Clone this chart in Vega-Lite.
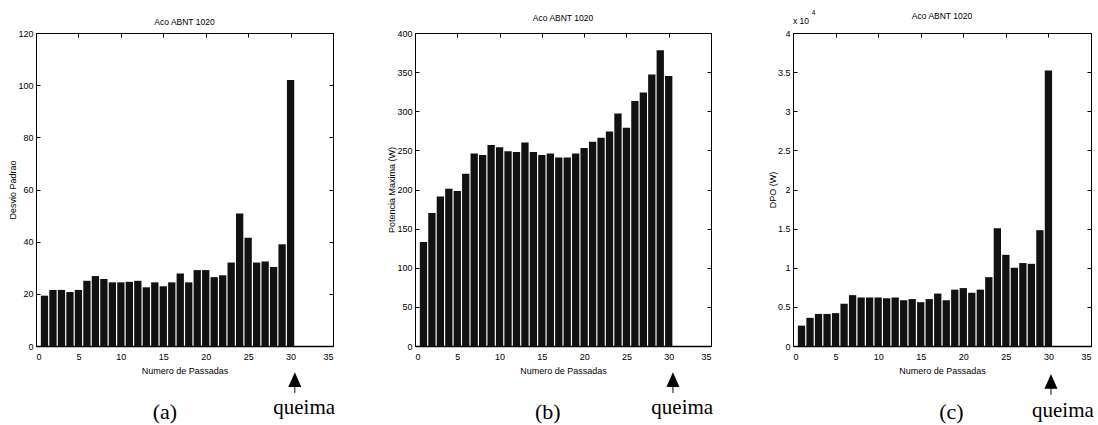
{
  "$schema": "https://vega.github.io/schema/vega-lite/v6.json",
  "background": "white",
  "padding": {"left": 8, "top": 9, "right": 0, "bottom": 0},
  "config": {
    "concat": {"spacing": 82},
    "view": {"stroke": "black", "strokeWidth": 1},
    "axis": {
      "domain": false,
      "grid": false,
      "tickColor": "black",
      "tickSize": -4,
      "labelFont": "Liberation Sans",
      "labelFontSize": 9,
      "labelColor": "black",
      "labelPadding": 7,
      "titleFont": "Liberation Sans",
      "titleFontSize": 9,
      "titleFontWeight": "normal",
      "titleColor": "black"
    },
    "axisBottom": {"labelPadding": 10, "titlePadding": 5},
    "axisLeft": {"titlePadding": 0},
    "title": {"font": "Liberation Sans", "fontSize": 8.5, "fontWeight": "normal", "color": "black", "offset": 10}
  },
  "bounds": "flush",
  "datasets": {
    "passes": [
      {"n": 1, "desvio": 19.3, "potencia": 133, "dpo": 2600},
      {"n": 2, "desvio": 21.5, "potencia": 170, "dpo": 3600},
      {"n": 3, "desvio": 21.5, "potencia": 191, "dpo": 4100},
      {"n": 4, "desvio": 20.7, "potencia": 201, "dpo": 4100},
      {"n": 5, "desvio": 21.5, "potencia": 198, "dpo": 4200},
      {"n": 6, "desvio": 25, "potencia": 220, "dpo": 5400},
      {"n": 7, "desvio": 26.8, "potencia": 246, "dpo": 6500},
      {"n": 8, "desvio": 25.7, "potencia": 244, "dpo": 6200},
      {"n": 9, "desvio": 24.4, "potencia": 257, "dpo": 6200},
      {"n": 10, "desvio": 24.4, "potencia": 254, "dpo": 6200},
      {"n": 11, "desvio": 24.6, "potencia": 249, "dpo": 6100},
      {"n": 12, "desvio": 25, "potencia": 248, "dpo": 6200},
      {"n": 13, "desvio": 22.5, "potencia": 260, "dpo": 5850},
      {"n": 14, "desvio": 24.4, "potencia": 248, "dpo": 6000},
      {"n": 15, "desvio": 22.9, "potencia": 244, "dpo": 5600},
      {"n": 16, "desvio": 24.4, "potencia": 246, "dpo": 6000},
      {"n": 17, "desvio": 27.8, "potencia": 241, "dpo": 6700},
      {"n": 18, "desvio": 24.4, "potencia": 241, "dpo": 5850},
      {"n": 19, "desvio": 29.1, "potencia": 246, "dpo": 7200},
      {"n": 20, "desvio": 29.1, "potencia": 253, "dpo": 7400},
      {"n": 21, "desvio": 26.4, "potencia": 261, "dpo": 6800},
      {"n": 22, "desvio": 27.1, "potencia": 266, "dpo": 7200},
      {"n": 23, "desvio": 32, "potencia": 274, "dpo": 8800},
      {"n": 24, "desvio": 50.8, "potencia": 297, "dpo": 15050},
      {"n": 25, "desvio": 41.5, "potencia": 279, "dpo": 11650},
      {"n": 26, "desvio": 32, "potencia": 313, "dpo": 10000},
      {"n": 27, "desvio": 32.4, "potencia": 324, "dpo": 10600},
      {"n": 28, "desvio": 30.3, "potencia": 347, "dpo": 10500},
      {"n": 29, "desvio": 39, "potencia": 378, "dpo": 14800},
      {"n": 30, "desvio": 102, "potencia": 345, "dpo": 35200}
    ],
    "one": [{}]
  },
  "hconcat": [
    {
      "width": 297,
      "height": 313,
      "title": {"text": "Aco ABNT 1020", "dy": 7},
      "resolve": {"axis": {"x": "independent", "y": "independent"}},
      "layer": [
        {
          "data": {"name": "passes"},
          "mark": {"type": "bar", "width": 7.3, "color": "#111111"},
          "encoding": {
            "x": {"field": "n", "type": "quantitative", "scale": {"domain": [0, 35], "nice": false, "padding": 0, "zero": false},
                  "axis": {"orient": "bottom", "values": [0,5,10,15,20,25,30,35], "title": "Numero de Passadas", "domain": true, "domainWidth": 1.5, "domainColor": "black"}},
            "y": {"field": "desvio", "type": "quantitative", "scale": {"domain": [0, 120], "nice": false},
                  "axis": {"orient": "left", "values": [0,20,40,60,80,100,120], "title": "Desvio Padrao"}}
          }
        },
        {
          "data": {"name": "passes"},
          "mark": {"type": "point", "opacity": 0},
          "encoding": {
            "x": {"field": "n", "type": "quantitative", "scale": {"domain": [0, 35], "nice": false, "padding": 0, "zero": false}, "axis": {"orient": "top", "values": [0,5,10,15,20,25,30,35], "labels": false, "title": null}},
            "y": {"field": "desvio", "type": "quantitative", "scale": {"domain": [0, 120], "nice": false}, "axis": {"orient": "right", "values": [0,20,40,60,80,100,120], "labels": false, "title": null}}
          }
        },
        {
          "data": {"name": "one"},
          "mark": {"type": "point", "shape": "M0,-1L0.55,0.25L0.04,0.25L0.04,0.75L-0.04,0.75L-0.04,0.25L-0.55,0.25Z", "filled": true, "color": "black", "opacity": 1, "size": 560, "clip": false},
          "encoding": {"x": {"datum": 30.5, "type": "quantitative", "axis": null}, "y": {"datum": -14.6, "type": "quantitative", "axis": null}}
        },
        {
          "data": {"name": "one"},
          "mark": {"type": "text", "text": "queima", "font": "Liberation Serif", "fontSize": 21, "align": "center", "baseline": "middle", "color": "black"},
          "encoding": {"x": {"datum": 31.6, "type": "quantitative", "axis": null}, "y": {"datum": -23.8, "type": "quantitative", "axis": null}}
        },
        {
          "data": {"name": "one"},
          "mark": {"type": "text", "text": "(a)", "font": "Liberation Serif", "fontSize": 22, "align": "center", "baseline": "middle", "color": "black"},
          "encoding": {"x": {"datum": 15.2, "type": "quantitative", "axis": null}, "y": {"datum": -25.3, "type": "quantitative", "axis": null}}
        }
      ]
    },
    {
      "width": 296,
      "height": 313,
      "title": {"text": "Aco ABNT 1020", "dy": 3},
      "resolve": {"axis": {"x": "independent", "y": "independent"}},
      "layer": [
        {
          "data": {"name": "passes"},
          "mark": {"type": "bar", "width": 7.3, "color": "#111111"},
          "encoding": {
            "x": {"field": "n", "type": "quantitative", "scale": {"domain": [0, 35], "nice": false, "padding": 0, "zero": false},
                  "axis": {"orient": "bottom", "values": [0,5,10,15,20,25,30,35], "title": "Numero de Passadas", "domain": true, "domainWidth": 1.5, "domainColor": "black"}},
            "y": {"field": "potencia", "type": "quantitative", "scale": {"domain": [0, 400], "nice": false},
                  "axis": {"orient": "left", "values": [0,50,100,150,200,250,300,350,400], "title": "Potencia Maxima (W)"}}
          }
        },
        {
          "data": {"name": "passes"},
          "mark": {"type": "point", "opacity": 0},
          "encoding": {
            "x": {"field": "n", "type": "quantitative", "scale": {"domain": [0, 35], "nice": false, "padding": 0, "zero": false}, "axis": {"orient": "top", "values": [0,5,10,15,20,25,30,35], "labels": false, "title": null}},
            "y": {"field": "potencia", "type": "quantitative", "scale": {"domain": [0, 400], "nice": false}, "axis": {"orient": "right", "values": [0,50,100,150,200,250,300,350,400], "labels": false, "title": null}}
          }
        },
        {
          "data": {"name": "one"},
          "mark": {"type": "point", "shape": "M0,-1L0.55,0.25L0.04,0.25L0.04,0.75L-0.04,0.75L-0.04,0.25L-0.55,0.25Z", "filled": true, "color": "black", "opacity": 1, "size": 560, "clip": false},
          "encoding": {"x": {"datum": 30.5, "type": "quantitative", "axis": null}, "y": {"datum": -48.6, "type": "quantitative", "axis": null}}
        },
        {
          "data": {"name": "one"},
          "mark": {"type": "text", "text": "queima", "font": "Liberation Serif", "fontSize": 21, "align": "center", "baseline": "middle", "color": "black"},
          "encoding": {"x": {"datum": 31.6, "type": "quantitative", "axis": null}, "y": {"datum": -79.2, "type": "quantitative", "axis": null}}
        },
        {
          "data": {"name": "one"},
          "mark": {"type": "text", "text": "(b)", "font": "Liberation Serif", "fontSize": 22, "align": "center", "baseline": "middle", "color": "black"},
          "encoding": {"x": {"datum": 15.7, "type": "quantitative", "axis": null}, "y": {"datum": -84.3, "type": "quantitative", "axis": null}}
        }
      ]
    },
    {
      "width": 298,
      "height": 313,
      "title": {"text": "Aco ABNT 1020", "dy": 20},
      "resolve": {"axis": {"x": "independent", "y": "independent"}},
      "layer": [
        {
          "data": {"name": "passes"},
          "mark": {"type": "bar", "width": 7.3, "color": "#111111"},
          "encoding": {
            "x": {"field": "n", "type": "quantitative", "scale": {"domain": [0, 35], "nice": false, "padding": 0, "zero": false},
                  "axis": {"orient": "bottom", "values": [0,5,10,15,20,25,30,35], "title": "Numero de Passadas", "domain": true, "domainWidth": 1.5, "domainColor": "black"}},
            "y": {"field": "dpo", "type": "quantitative", "scale": {"domain": [0, 40000], "nice": false},
                  "axis": {"orient": "left", "values": [0,5000,10000,15000,20000,25000,30000,35000,40000], "labelExpr": "datum.value / 10000", "title": "DPO (W)"}}
          }
        },
        {
          "data": {"name": "passes"},
          "mark": {"type": "point", "opacity": 0},
          "encoding": {
            "x": {"field": "n", "type": "quantitative", "scale": {"domain": [0, 35], "nice": false, "padding": 0, "zero": false}, "axis": {"orient": "top", "values": [0,5,10,15,20,25,30,35], "labels": false, "title": null}},
            "y": {"field": "dpo", "type": "quantitative", "scale": {"domain": [0, 40000], "nice": false}, "axis": {"orient": "right", "values": [0,5000,10000,15000,20000,25000,30000,35000,40000], "labels": false, "title": null}}
          }
        },
        {
          "data": {"name": "one"},
          "mark": {"type": "text", "text": "x 10", "font": "Liberation Sans", "fontSize": 8.5, "align": "left", "baseline": "alphabetic", "color": "black"},
          "encoding": {"x": {"datum": 0, "type": "quantitative", "axis": null}, "y": {"datum": 41200, "type": "quantitative", "axis": null}}
        },
        {
          "data": {"name": "one"},
          "mark": {"type": "text", "text": "4", "font": "Liberation Sans", "fontSize": 6.5, "align": "left", "baseline": "middle", "color": "black"},
          "encoding": {"x": {"datum": 2.2, "type": "quantitative", "axis": null}, "y": {"datum": 42500, "type": "quantitative", "axis": null}}
        },
        {
          "data": {"name": "one"},
          "mark": {"type": "point", "shape": "M0,-1L0.55,0.25L0.04,0.25L0.04,0.75L-0.04,0.75L-0.04,0.25L-0.55,0.25Z", "filled": true, "color": "black", "opacity": 1, "size": 560, "clip": false},
          "encoding": {"x": {"datum": 30.3, "type": "quantitative", "axis": null}, "y": {"datum": -5100, "type": "quantitative", "axis": null}}
        },
        {
          "data": {"name": "one"},
          "mark": {"type": "text", "text": "queima", "font": "Liberation Serif", "fontSize": 21, "align": "center", "baseline": "middle", "color": "black"},
          "encoding": {"x": {"datum": 31.7, "type": "quantitative", "axis": null}, "y": {"datum": -8300, "type": "quantitative", "axis": null}}
        },
        {
          "data": {"name": "one"},
          "mark": {"type": "text", "text": "(c)", "font": "Liberation Serif", "fontSize": 22, "align": "center", "baseline": "middle", "color": "black"},
          "encoding": {"x": {"datum": 18.6, "type": "quantitative", "axis": null}, "y": {"datum": -8435, "type": "quantitative", "axis": null}}
        }
      ]
    }
  ]
}
